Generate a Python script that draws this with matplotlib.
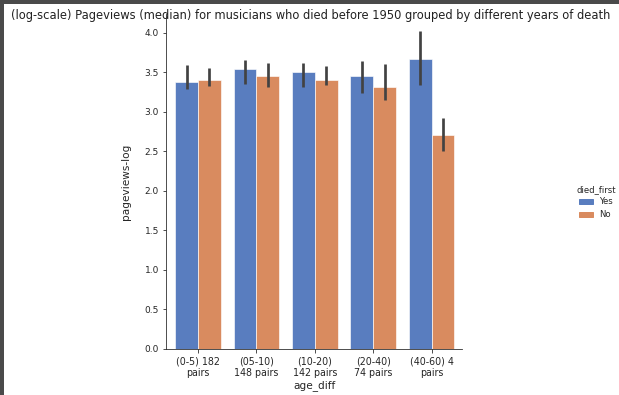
import numpy as np
import matplotlib
matplotlib.use("Agg")
import matplotlib.pyplot as plt
import matplotlib.patches as mpatches
import seaborn as sns

# data
groups = ["(0-5) 182\npairs", "(05-10)\n148 pairs", "(10-20)\n142 pairs",
          "(20-40)\n74 pairs", "(40-60) 4\npairs"]
hue_levels = ["Yes", "No"]
yes_vals = [3.38, 3.54, 3.50, 3.45, 3.67]
no_vals = [3.40, 3.46, 3.40, 3.32, 2.71]
yes_lo = [3.29, 3.36, 3.31, 3.24, 3.34]
yes_hi = [3.59, 3.66, 3.62, 3.64, 4.02]
no_lo = [3.33, 3.32, 3.34, 3.15, 2.51]
no_hi = [3.56, 3.62, 3.58, 3.61, 2.93]

sns.set_style("ticks")
plt.rcParams['font.family'] = ['DejaVu Sans']
txt = '#262626'

pal = [sns.desaturate(c, 0.75) for c in sns.color_palette("muted", 2)]

fig = plt.figure(figsize=(619/72, 395/72), dpi=72)
ax = fig.add_axes([166/619, 46/395, 296/619, 335/395])

x = np.arange(len(groups))
w = 0.39
for i, (vals, lo, hi) in enumerate([(yes_vals, yes_lo, yes_hi), (no_vals, no_lo, no_hi)]):
    pos = x + (i - 0.5) * w
    ax.bar(pos, vals, width=w, color=pal[i], edgecolor='white', linewidth=0.6,
           label=hue_levels[i], zorder=2)
    ax.vlines(pos, lo, hi, colors='.26', linewidth=2.7, zorder=3)

ax.set_xlim(-0.55, 4.52)
ax.set_ylim(0, 4.24)
ax.set_yticks(np.arange(0, 4.01, 0.5))
ax.set_xticks(x)
ax.set_xticklabels(groups, fontsize=9.5, color=txt, linespacing=1.3)
ax.tick_params(axis='y', labelsize=9, labelcolor=txt)
ax.set_xlabel('age_diff', fontsize=10.5, color=txt, labelpad=2)
ax.set_ylabel('pageviews-log', fontsize=10.5, color=txt, labelpad=14)
sns.despine(ax=ax)

handles = [mpatches.Patch(color=pal[i], label=hue_levels[i]) for i in range(2)]
leg = fig.legend(handles=handles, title='died_first', loc='center left',
                 bbox_to_anchor=(573/619, 1 - 202/395), frameon=False,
                 fontsize=8.5, title_fontsize=8.5, handlelength=1.6,
                 handleheight=0.5, labelspacing=0.45, borderaxespad=0)
for t in leg.get_texts():
    t.set_color(txt)
leg.get_title().set_color(txt)

fig.text(311/619, 1 - 16/395, '(log-scale) Pageviews (median) for musicians who died before 1950 grouped by different years of death',
         ha='center', va='center', fontsize=11.55, color='#222222')

# screenshot frame on the top and left edges
fig.patches.append(mpatches.Rectangle((0, 1 - 3/395), 1, 3/395, transform=fig.transFigure,
                                      color='#4a4a4a', zorder=10))
fig.patches.append(mpatches.Rectangle((0, 0), 3/619, 1, transform=fig.transFigure,
                                      color='#4a4a4a', zorder=10))

fig.savefig('out.png', dpi=72)
